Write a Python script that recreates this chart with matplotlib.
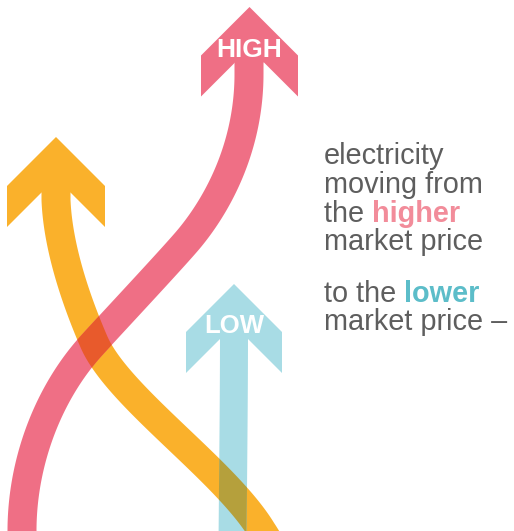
import matplotlib

matplotlib.use("Agg")
import matplotlib.pyplot as plt
import numpy as np
from matplotlib.bezier import BezierSegment
from matplotlib.patches import Polygon

# ribbon centre lines as chained cubic Bezier control points (pixel coords, y down)
pink_ctrl = [(249, 58), (249, 66), (249, 70), (249, 74),
             (249, 144), (220, 202), (188, 240),
             (171, 260), (112, 323), (92, 345),
             (49, 392), (22, 461), (22, 531),
             (22, 538), (22, 545), (22, 552)]
yellow_ctrl = [(56, 185), (56, 192), (56, 196), (56, 200),
               (58, 250), (78, 305), (94, 342),
               (118, 397), (225, 470), (262, 531),
               (266, 537), (270, 544), (274, 551)]
blue_ctrl = [(234, 330), (234, 400), (233, 480), (232.5, 545)]

# arrow heads: tip, wing half-width, shaft half-width
pink_head = (249.5, 7, 48.5, 14.5)
yellow_head = (56, 137, 49, 14.5)
blue_head = (234, 284, 48, 14)

labels = ["HIGH", "LOW"]
text_lines = [
    [("electricity", "normal", "text")],
    [("moving from", "normal", "text")],
    [("the ", "normal", "text"), ("higher", "bold", "pink_t")],
    [("market price", "normal", "text")],
    [("to the ", "normal", "text"), ("lower", "bold", "blue_t")],
    [("market price \u2013", "normal", "text")],
]
baselines = [164, 193, 221.5, 250, 302.5, 330.5]

colors = {
    "pink": "#EF6F85", "yellow": "#FAB12B", "blue": "#A8DCE5",
    "pink_yellow": "#E85A2C", "blue_yellow": "#B5A03C",
    "text": "#5E5E5E", "pink_t": "#F28C9A", "blue_t": "#5CBDC9",
}


def centre_line(ctrl, n=80):
    ctrl = np.asarray(ctrl, dtype=float)
    pts = []
    for i in range(0, len(ctrl) - 1, 3):
        seg = BezierSegment(ctrl[i:i + 4])
        pts.append(seg(np.linspace(0, 1, n)))
    return np.vstack(pts)


def ribbon(ctrl, width):
    c = centre_line(ctrl)
    d = np.gradient(c, axis=0)
    d /= np.linalg.norm(d, axis=1, keepdims=True) + 1e-12
    nrm = np.column_stack([-d[:, 1], d[:, 0]]) * width / 2
    return np.vstack([c + nrm, (c - nrm)[::-1]])


def head(tip_x, tip_y, half, shaft):
    wing = 41
    return [(tip_x, tip_y), (tip_x + half, tip_y + half),
            (tip_x + half, tip_y + half + wing),
            (tip_x + shaft, tip_y + half + wing - (half - shaft)),
            (tip_x - shaft, tip_y + half + wing - (half - shaft)),
            (tip_x - half, tip_y + half + wing), (tip_x - half, tip_y + half)]


fig = plt.figure(figsize=(5.14, 5.31), dpi=100)
ax = fig.add_axes([0, 0, 1, 1])
ax.set_xlim(0, 514)
ax.set_ylim(531, 0)
ax.axis("off")

pink_poly = ribbon(pink_ctrl, 29)
yellow_poly = ribbon(yellow_ctrl, 29)
blue_poly = ribbon(blue_ctrl, 28)

yellow_patch = ax.add_patch(Polygon(yellow_poly, closed=True, fc=colors["yellow"], ec="none"))
ax.add_patch(Polygon(head(*yellow_head), closed=True, fc=colors["yellow"], ec="none"))
ax.add_patch(Polygon(pink_poly, closed=True, fc=colors["pink"], ec="none"))
ax.add_patch(Polygon(head(*pink_head), closed=True, fc=colors["pink"], ec="none"))
ax.add_patch(Polygon(blue_poly, closed=True, fc=colors["blue"], ec="none"))
ax.add_patch(Polygon(head(*blue_head), closed=True, fc=colors["blue"], ec="none"))

# overlaps look multiplied, so redraw the crossing parts clipped to the yellow ribbon
over_py = ax.add_patch(Polygon(pink_poly, closed=True, fc=colors["pink_yellow"], ec="none"))
over_py.set_clip_path(yellow_patch)
over_by = ax.add_patch(Polygon(blue_poly, closed=True, fc=colors["blue_yellow"], ec="none"))
over_by.set_clip_path(yellow_patch)

ax.text(pink_head[0], 50, labels[0], color="white", fontsize=19, fontweight="bold",
        family="Liberation Sans", ha="center", va="center")
ax.text(blue_head[0], 326, labels[1], color="white", fontsize=18.5, fontweight="bold",
        family="Liberation Sans", ha="center", va="center")

fig.canvas.draw()
renderer = fig.canvas.get_renderer()
for parts, yb in zip(text_lines, baselines):
    x = 324
    for s, w, c in parts:
        t = ax.text(x, yb, s, color=colors[c], fontsize=20.8, fontweight=w,
                    family="Liberation Sans", ha="left", va="baseline")
        bb = t.get_window_extent(renderer)
        x += bb.width

fig.savefig("out.png", dpi=100)
